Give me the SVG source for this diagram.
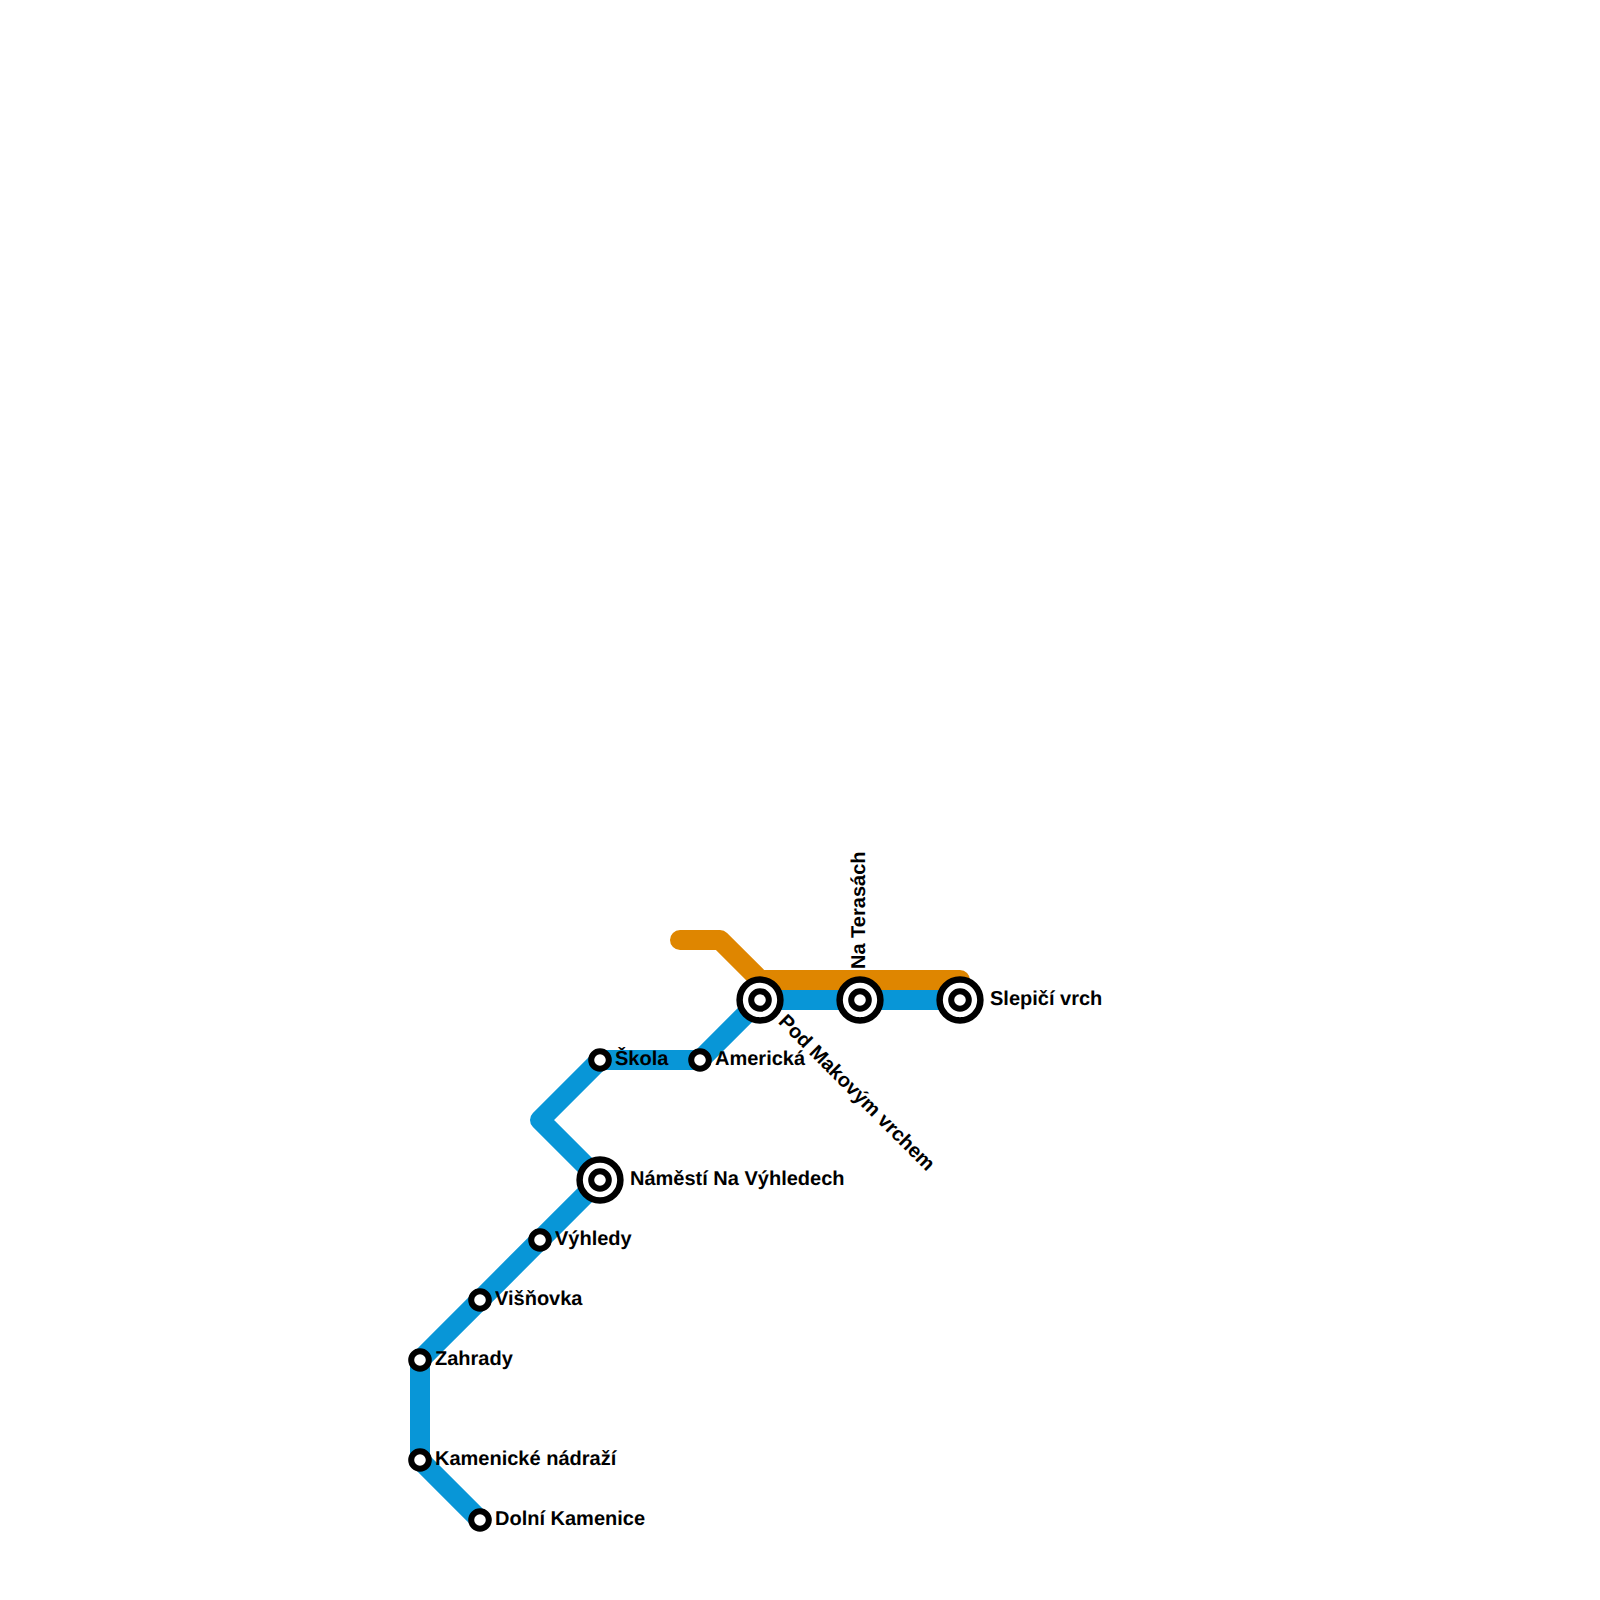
<svg xmlns="http://www.w3.org/2000/svg" width="1600" height="1600" viewBox="0 0 1600 1600">
<style>
.line{fill:none;stroke-width:20;stroke-linecap:round;stroke-linejoin:round}
.o{stroke:#df8600}.b{stroke:#0896d7}
.st{fill:#fff;stroke:#000;stroke-width:6}
.in{fill:#fff;stroke:#000;stroke-width:6}
.big{fill:#fff;stroke:#000;stroke-width:6.5}
text{font-family:"Liberation Sans",Arial,sans-serif;font-weight:700;font-size:20px;fill:#000;text-rendering:geometricPrecision;opacity:.999}
</style>
<rect width="1600" height="1600" fill="#fff"/>
<g id="connectors">
<path class="line o" d="M680 940H720L760 980H960"/>
<path class="line b" d="M480 1520L420 1460V1360L600 1180L540 1120L600 1060H700L760 1000H960"/>
</g>
<g id="dolni-kamenice"><circle class="st" cx="480" cy="1520" r="8.8"/><text x="495" y="1525">Dolní Kamenice</text></g>
<g id="kamenicke-nadrazi"><circle class="st" cx="420" cy="1460" r="8.8"/><text x="435" y="1465">Kamenické nádraží</text></g>
<g id="zahrady"><circle class="st" cx="420" cy="1360" r="8.8"/><text x="435" y="1365">Zahrady</text></g>
<g id="visnovka"><circle class="st" cx="480" cy="1300" r="8.8"/><text x="495" y="1305">Višňovka</text></g>
<g id="vyhledy"><circle class="st" cx="540" cy="1240" r="8.8"/><text x="555" y="1245">Výhledy</text></g>
<g id="namesti-na-vyhledech"><circle class="big" cx="600" cy="1180" r="20.4"/><circle class="in" cx="600" cy="1180" r="8.8"/><text x="630" y="1185">Náměstí Na Výhledech</text></g>
<g id="skola"><circle class="st" cx="600" cy="1060" r="8.8"/><text x="615" y="1065">Škola</text></g>
<g id="americka"><circle class="st" cx="700" cy="1060" r="8.8"/><text x="715" y="1065">Americká</text></g>
<g id="pod-makovym-vrchem"><circle class="big" cx="760" cy="1000" r="20.4"/><circle class="in" cx="760" cy="1000" r="8.8"/><text transform="translate(777.5 1022.5) rotate(45)">Pod Makovým vrchem</text></g>
<g id="na-terasach"><circle class="big" cx="860" cy="1000" r="20.4"/><circle class="in" cx="860" cy="1000" r="8.8"/><text transform="translate(864.5 969) rotate(-90)">Na Terasách</text></g>
<g id="slepici-vrch"><circle class="big" cx="960" cy="1000" r="20.4"/><circle class="in" cx="960" cy="1000" r="8.8"/><text x="990" y="1005">Slepičí vrch</text></g>
</svg>
